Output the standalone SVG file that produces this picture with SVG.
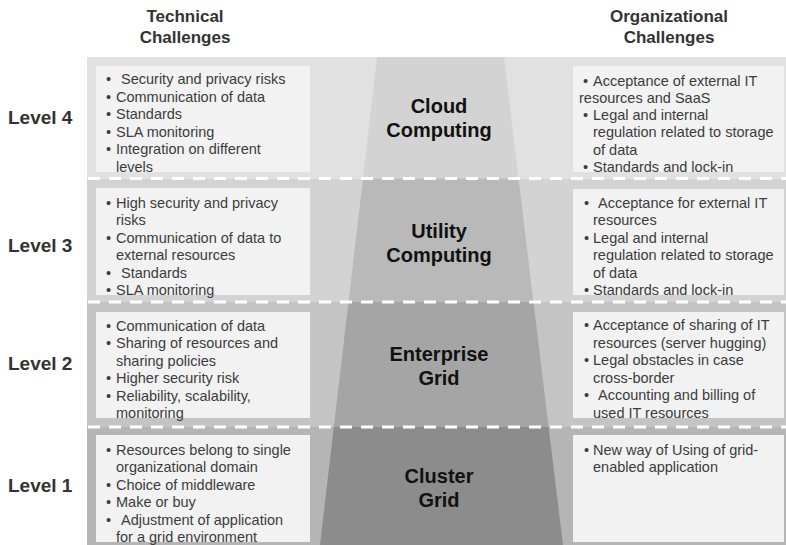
<svg xmlns="http://www.w3.org/2000/svg" width="786" height="545" viewBox="0 0 786 545">
<style>
.hdr{font-family:"Liberation Sans",Arial,sans-serif;font-size:17px;font-weight:bold;fill:#333;text-anchor:middle}
.lvl{font-family:"Liberation Sans",Arial,sans-serif;font-size:19px;font-weight:bold;fill:#333}
.fl{font-family:"Liberation Sans",Arial,sans-serif;font-size:20px;font-weight:bold;fill:#111;text-anchor:middle}
.bx{fill:#f2f2f2}
.t{font-family:"Liberation Sans",Arial,sans-serif;font-size:14.5px;fill:#3c3c3c}
.dash{stroke:#fff;stroke-width:3;stroke-dasharray:12 9;fill:none}
</style>
<rect width="786" height="545" fill="#fff"/>
<g id="headers">
<text class="hdr" x="185" y="22">Technical</text>
<text class="hdr" x="185" y="43">Challenges</text>
<text class="hdr" x="669" y="22">Organizational</text>
<text class="hdr" x="669" y="43">Challenges</text>
</g>
<g id="bands">
<rect x="87" y="57" width="699" height="121.5" fill="#e1e1e1"/>
<rect x="87" y="178.5" width="699" height="123.5" fill="#d3d3d3"/>
<rect x="87" y="302" width="699" height="125" fill="#c4c4c4"/>
<rect x="87" y="427" width="699" height="118" fill="#b5b5b5"/>
</g>
<g id="funnel">
<polygon points="377,57 504,57 518.5,178.5 363,178.5" fill="#d3d3d3"/>
<polygon points="363,178.5 518.5,178.5 533.5,302 348.5,302" fill="#b9b9b9"/>
<polygon points="348.5,302 533.5,302 548.6,427 333.8,427" fill="#a5a5a5"/>
<polygon points="333.8,427 548.6,427 563,545 320,545" fill="#8c8c8c"/>
</g>
<g id="connectors">
<line class="dash" x1="88" y1="178.5" x2="786" y2="178.5"/>
<line class="dash" x1="88" y1="302" x2="786" y2="302"/>
<line class="dash" x1="88" y1="427" x2="786" y2="427"/>
</g>
<g id="level4">
<text class="lvl" x="8" y="124">Level 4</text>
<rect class="bx" x="96" y="66" width="214" height="106"/>
<rect class="bx" x="573" y="66" width="211" height="106"/>
<text class="fl" x="439" y="113">Cloud</text>
<text class="fl" x="439" y="137">Computing</text>
<g class="t">
<text x="106" y="84">•</text><text x="121" y="84">Security and privacy risks</text>
<text x="106" y="101.6">•</text><text x="116" y="101.6">Communication of data</text>
<text x="106" y="119.2">•</text><text x="116" y="119.2">Standards</text>
<text x="106" y="136.8">•</text><text x="116" y="136.8">SLA monitoring</text>
<text x="106" y="154.4">•</text><text x="116" y="154.4">Integration on different</text>
<text x="116" y="172">levels</text>
<text x="583" y="85.5">•</text><text x="593" y="85.5">Acceptance of external IT</text>
<text x="579" y="102.8">resources and SaaS</text>
<text x="583" y="120.1">•</text><text x="593" y="120.1">Legal  and internal</text>
<text x="593" y="137.4">regulation related to storage</text>
<text x="593" y="154.7">of data</text>
<text x="583" y="172">•</text><text x="593" y="172">Standards and lock-in</text>
</g>
</g>
<g id="level3">
<text class="lvl" x="8" y="252">Level 3</text>
<rect class="bx" x="96" y="188" width="214" height="107"/>
<rect class="bx" x="573" y="189" width="211" height="106"/>
<text class="fl" x="439" y="238">Utility</text>
<text class="fl" x="439" y="262">Computing</text>
<g class="t">
<text x="106" y="208">•</text><text x="116" y="208">High security and privacy</text>
<text x="116" y="225.4">risks</text>
<text x="106" y="242.8">•</text><text x="116" y="242.8">Communication of data to</text>
<text x="116" y="260.2">external resources</text>
<text x="106" y="277.6">•</text><text x="121" y="277.6">Standards</text>
<text x="106" y="295">•</text><text x="116" y="295">SLA monitoring</text>
<text x="584" y="208">•</text><text x="598" y="208">Acceptance for external IT</text>
<text x="593" y="225.4">resources</text>
<text x="584" y="242.8">•</text><text x="593" y="242.8">Legal  and internal</text>
<text x="593" y="260.2">regulation related to storage</text>
<text x="593" y="277.6">of data</text>
<text x="584" y="295">•</text><text x="593" y="295">Standards and lock-in</text>
</g>
</g>
<g id="level2">
<text class="lvl" x="8" y="370">Level 2</text>
<rect class="bx" x="96" y="312" width="214" height="106"/>
<rect class="bx" x="573" y="312" width="211" height="106"/>
<text class="fl" x="439" y="361">Enterprise</text>
<text class="fl" x="439" y="385">Grid</text>
<g class="t">
<text x="106" y="330.5">•</text><text x="116" y="330.5">Communication of data</text>
<text x="106" y="348">•</text><text x="116" y="348">Sharing of resources and</text>
<text x="116" y="365.5">sharing policies</text>
<text x="106" y="383">•</text><text x="116" y="383">Higher security risk</text>
<text x="106" y="400.5">•</text><text x="116" y="400.5">Reliability, scalability,</text>
<text x="116" y="418">monitoring</text>
<text x="584" y="330">•</text><text x="593" y="330">Acceptance of sharing of IT</text>
<text x="593" y="347.6">resources (server hugging)</text>
<text x="584" y="365.2">•</text><text x="593" y="365.2">Legal obstacles in case</text>
<text x="593" y="382.8">cross-border</text>
<text x="584" y="400.4">•</text><text x="598" y="400.4">Accounting and billing of</text>
<text x="593" y="418">used IT resources</text>
</g>
</g>
<g id="level1">
<text class="lvl" x="8" y="492">Level 1</text>
<rect class="bx" x="96" y="435" width="214" height="107"/>
<rect class="bx" x="573" y="435" width="211" height="107"/>
<text class="fl" x="439" y="483">Cluster</text>
<text class="fl" x="439" y="507">Grid</text>
<g class="t">
<text x="106" y="455">•</text><text x="116" y="455">Resources belong to single</text>
<text x="116" y="472.4">organizational domain</text>
<text x="106" y="489.8">•</text><text x="116" y="489.8">Choice of middleware</text>
<text x="106" y="507.2">•</text><text x="116" y="507.2">Make or buy</text>
<text x="106" y="524.6">•</text><text x="121" y="524.6">Adjustment of application</text>
<text x="116" y="542">for a grid environment</text>
<text x="584" y="455">•</text><text x="593" y="455">New way of Using of grid-</text>
<text x="593" y="472.4">enabled application</text>
</g>
</g>
</svg>
